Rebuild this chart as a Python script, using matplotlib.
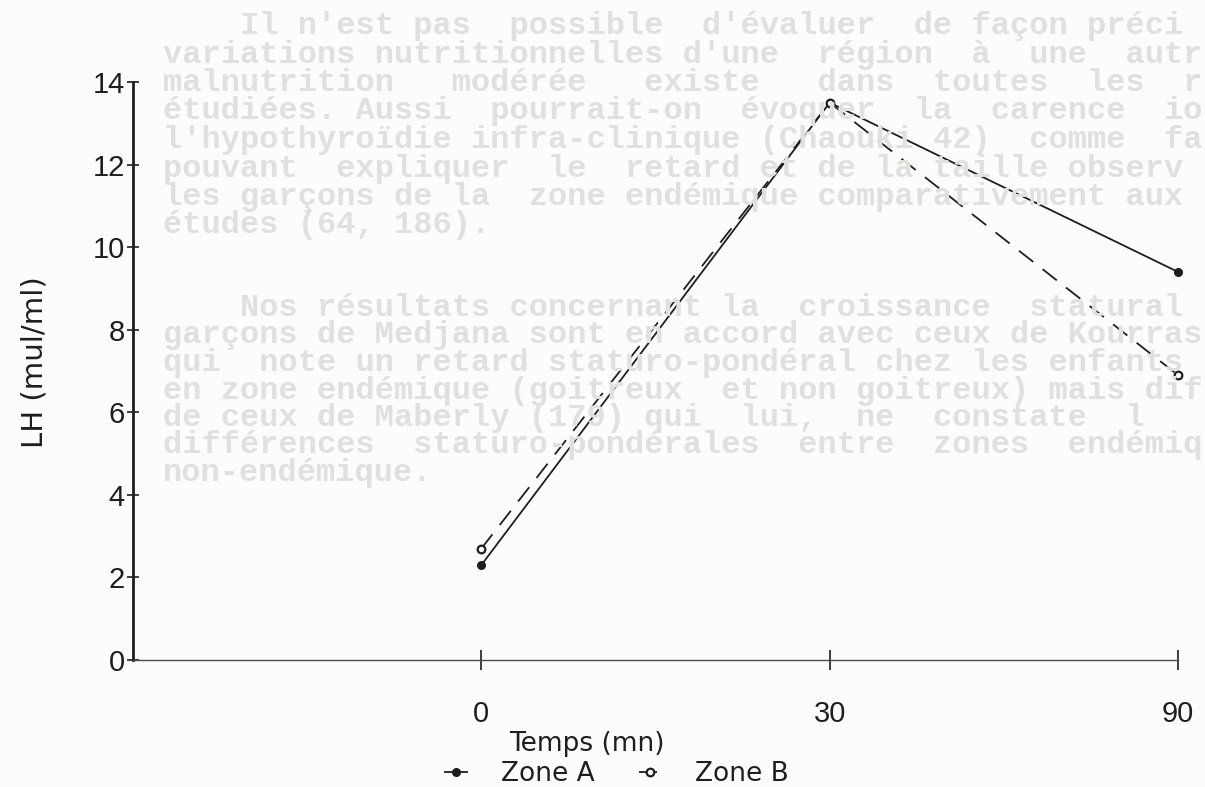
"""LH response curves (Zone A vs Zone B), redrawn from a scanned page."""

import matplotlib

matplotlib.use("Agg")
import matplotlib.pyplot as plt
import numpy as np

# data
times = ["0", "30", "90"]
zone_a = [2.3, 13.5, 9.4]
zone_b = [2.7, 13.5, 6.9]
y_ticks = [0, 2, 4, 6, 8, 10, 12, 14]

# faint text showing through from the other side of the page (cut at the page edge)
ghost_lines = [
    "    Il n'est pas  possible  d'évaluer  de façon préci",
    "variations nutritionnelles d'une  région  à  une  autr",
    "malnutrition   modérée   existe   dans  toutes  les  r",
    "étudiées. Aussi  pourrait-on  évoquer  la  carence  io",
    "l'hypothyroïdie infra-clinique (Chaouki 42)  comme  fa",
    "pouvant  expliquer  le  retard et de la taille observ",
    "les garçons de la  zone endémique comparativement aux",
    "études (64, 186).",
]
ghost_lines_2 = [
    "    Nos résultats concernant la  croissance  statural",
    "garçons de Medjana sont en accord avec ceux de Kourras",
    "qui  note un retard staturo-pondéral chez les enfants",
    "en zone endémique (goitreux  et non goitreux) mais dif",
    "de ceux de Maberly (179) qui  lui,  ne  constate  l",
    "différences  staturo-pondérales  entre  zones  endémiq",
    "non-endémique.",
]

W, H = 1205, 787
ink = "#1e1e1e"
ghost = "#e0e0e0"
plt.rcParams["lines.scale_dashes"] = False

fig = plt.figure(figsize=(W / 100, H / 100), dpi=100)
fig.patch.set_facecolor("#fcfcfb")

for i, line in enumerate(ghost_lines):
    fig.text(163 / W, 1 - (26 + 28.5 * i) / H, line, family="Liberation Mono",
             fontsize=23, weight="bold", color=ghost, va="center", zorder=0)
for i, line in enumerate(ghost_lines_2):
    fig.text(163 / W, 1 - (308 + 27.5 * i) / H, line, family="Liberation Mono",
             fontsize=23, weight="bold", color=ghost, va="center", zorder=0)

ax = fig.add_axes([133 / W, 127 / H, 1045 / W, 578 / H])
ax.set_facecolor("none")

xpos = np.arange(len(times))
ax.plot(xpos, zone_a, color=ink, lw=1.3, marker="o", ms=5.5, mfc=ink, mec=ink,
        clip_on=False, label="Zone A", zorder=3)
ax.plot(xpos, zone_b, color=ink, lw=1.3, dashes=(13, 8.5), marker="o", ms=5.5,
        mfc="white", mec=ink, mew=1.6, clip_on=False, label="Zone B", zorder=3)

ax.set_xlim(-1, 2)
ax.set_ylim(0, 14)
ax.set_xticks(xpos, times)
ax.set_yticks(y_ticks)

for side in ["top", "right"]:
    ax.spines[side].set_visible(False)
ax.spines["left"].set_linewidth(2.0)
ax.spines["left"].set_color(ink)
ax.spines["bottom"].set_linewidth(1.0)
ax.spines["bottom"].set_color("#4a4a4a")

ax.tick_params(axis="y", direction="inout", length=8, width=1.2, pad=2,
               labelsize=21, colors=ink, labelfontfamily="Liberation Sans")
ax.tick_params(axis="x", direction="inout", length=14, width=1.2, pad=22,
               labelsize=21, colors=ink, labelfontfamily="Liberation Sans")

ax.set_xlabel("Temps (mn)", fontsize=19, color=ink, va="center")
ax.xaxis.set_label_coords((587 - 133) / 1045, -(744 - 660) / 578)
ax.set_ylabel("LH (mul/ml)", fontsize=21, color=ink, va="center")
ax.yaxis.set_label_coords((35 - 133) / 1045, (660 - 362) / 578)

fig.legend(loc="center", bbox_to_anchor=(617 / W, 1 - 774 / H), ncol=2,
           frameon=False, fontsize=19, handlelength=0.8, handletextpad=1.3,
           columnspacing=1.7, labelcolor=ink, borderpad=0.0)

fig.savefig("out.png", dpi=100, facecolor=fig.get_facecolor())
